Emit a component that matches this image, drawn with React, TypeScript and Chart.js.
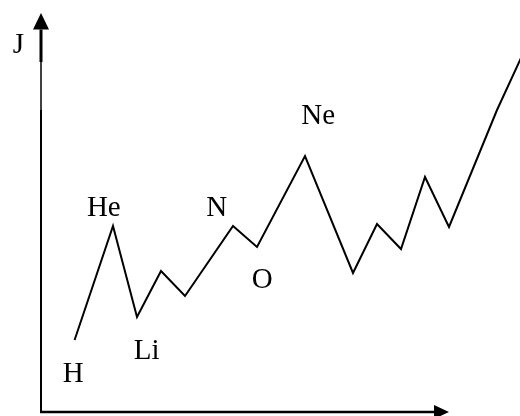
import React, { useEffect, useRef } from "react";
import { Chart, registerables } from "chart.js";

Chart.register(...registerables);

// Horizontal position of each sketched point (grid steps along the x axis)
const positions = [1.4, 3, 4, 5, 6, 8, 9, 11, 13, 14, 15, 16, 17, 19, 20];
// Sketched height of each point (arbitrary energy units)
const energies = [7.2, 18.6, 9.5, 14.1, 11.6, 18.6, 16.5, 25.6, 13.9, 18.8, 16.3, 23.5, 18.5, 30.2, 35.4];
// Element labels and the point each one marks
const elementNames = ["H", "He", "Li", "N", "O", "Ne"];
const elementIndex = [0, 1, 2, 5, 6, 7];
const yAxisLabel = "J";
// Axis extents (data units)
const xAxisEnd = 17;
const yAxisEnd = 39.9;

const X_MIN = -41 / 24;
const X_MAX = 479 / 24;
const Y_MIN = -0.4;
const Y_MAX = 41.2;

const FONT = "29px 'Liberation Serif', 'Times New Roman', serif";

// label offsets in pixels from their point: [dx of text centre, dy of baseline]
const labelOffsets: Record<string, [number, number]> = {
  H: [-1.5, 42.3],
  He: [-9.2, -9.6],
  Li: [9.6, 42],
  N: [-16.4, -10.3],
  O: [5.3, 40.5],
  Ne: [13.2, -32.4],
};

const sketchPlugin = {
  id: "sketchAxes",
  afterDraw(chart: any) {
    const ctx = chart.ctx as CanvasRenderingContext2D;
    const xs = chart.scales.x;
    const ys = chart.scales.y;
    const ox = xs.getPixelForValue(0);
    const oy = ys.getPixelForValue(0);
    const xEnd = xs.getPixelForValue(xAxisEnd);
    const yEnd = ys.getPixelForValue(yAxisEnd);
    ctx.save();
    ctx.strokeStyle = "#000";
    ctx.fillStyle = "#000";
    ctx.lineCap = "butt";

    // y axis
    const yHeadBase = yEnd + 16.5;
    ctx.lineWidth = 2;
    ctx.beginPath();
    ctx.moveTo(ox, oy + 1);
    ctx.lineTo(ox, yEnd + 97);
    ctx.stroke();
    ctx.lineWidth = 1.5;
    ctx.beginPath();
    ctx.moveTo(ox, yEnd + 97);
    ctx.lineTo(ox, yEnd + 49);
    ctx.stroke();
    ctx.lineWidth = 3;
    ctx.beginPath();
    ctx.moveTo(ox, yEnd + 49);
    ctx.lineTo(ox, yHeadBase);
    ctx.stroke();
    ctx.beginPath();
    ctx.moveTo(ox, yEnd);
    ctx.lineTo(ox - 8, yHeadBase);
    ctx.lineTo(ox + 8, yHeadBase);
    ctx.closePath();
    ctx.fill();

    // x axis
    const xHeadBase = xEnd - 15;
    ctx.lineWidth = 2.5;
    ctx.beginPath();
    ctx.moveTo(ox - 1, oy);
    ctx.lineTo(xHeadBase, oy);
    ctx.stroke();
    ctx.beginPath();
    ctx.moveTo(xEnd, oy);
    ctx.lineTo(xHeadBase, oy - 7);
    ctx.lineTo(xHeadBase, oy + 7);
    ctx.closePath();
    ctx.fill();

    // labels
    ctx.font = FONT;
    ctx.textAlign = "center";
    ctx.textBaseline = "alphabetic";
    ctx.fillText(yAxisLabel, ox - 22.7, yEnd + 40);
    const meta = chart.getDatasetMeta(0);
    elementNames.forEach((name, i) => {
      const pt = meta.data[elementIndex[i]];
      const off = labelOffsets[name] || [0, 0];
      ctx.fillText(name, pt.x + off[0], pt.y + off[1]);
    });
    ctx.restore();
  },
};

export default function App() {
  const ref = useRef<HTMLCanvasElement | null>(null);
  useEffect(() => {
    document.body.style.margin = "0";
    const canvas = ref.current;
    if (!canvas) return;
    const chart = new Chart(canvas, {
      type: "line",
      data: {
        datasets: [
          {
            data: positions.map((x, i) => ({ x, y: energies[i] })),
            borderColor: "#000",
            borderWidth: 2,
            borderJoinStyle: "miter",
            pointRadius: 0,
            tension: 0,
            fill: false,
          },
        ],
      },
      options: {
        animation: false,
        responsive: false,
        maintainAspectRatio: false,
        layout: { padding: 0 },
        plugins: { legend: { display: false }, tooltip: { enabled: false } },
        scales: {
          x: { type: "linear", min: X_MIN, max: X_MAX, display: false },
          y: { type: "linear", min: Y_MIN, max: Y_MAX, display: false },
        },
      },
      plugins: [sketchPlugin],
    });
    return () => chart.destroy();
  }, []);
  return (
    <div style={{ width: 520, height: 416, background: "#fff" }}>
      <canvas ref={ref} width={520} height={416} style={{ display: "block" }} />
    </div>
  );
}
